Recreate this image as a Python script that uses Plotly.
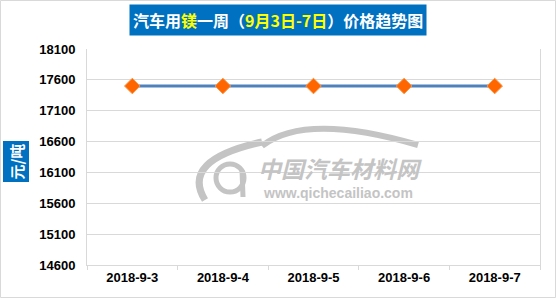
import plotly.graph_objects as go

# ---- data ----
dates = ["2018-9-3", "2018-9-4", "2018-9-5", "2018-9-6", "2018-9-7"]
prices = [17500, 17500, 17500, 17500, 17500]
y_min, y_max, y_step = 14600, 18100, 500

W, H = 556, 298
L, R, T, B = 87, 16, 49, 33
pw, ph = W - L - R, H - T - B

def px(x):
    return (x - L) / pw

def py(y):
    return (H - B - y) / ph

fig = go.Figure()
fig.add_trace(go.Scatter(
    x=dates, y=prices, mode="lines+markers",
    line=dict(color="#4F81BD", width=3),
    marker=dict(symbol="diamond", size=12, color="#FF6600",
                line=dict(color="#F79646", width=1)),
    showlegend=False, cliponaxis=False,
))

grey = "#D9D9D9"
tickfont = dict(family="Liberation Sans, Arial, sans-serif", size=13, color="#000000")

fig.update_layout(
    width=W, height=H, autosize=False,
    margin=dict(l=L, r=R, t=T, b=B, pad=0),
    paper_bgcolor="white", plot_bgcolor="white",
    xaxis=dict(type="category", range=[-0.5, len(dates) - 0.5],
               showgrid=False, showline=True, linecolor=grey,
               linewidth=1, ticks="outside", tickson="boundaries", ticklen=4,
               tickcolor=grey, tickfont=tickfont, mirror=False,
               tickprefix="<b>", ticksuffix="</b>"),
    yaxis=dict(range=[y_min, y_max], tick0=y_min, dtick=y_step, tickformat="d",
               showgrid=True, gridcolor=grey, gridwidth=1,
               showline=True, linecolor=grey, mirror=True, zeroline=False,
               tickfont=tickfont, ticks="", ticklabelstandoff=8,
               tickprefix="<b>", ticksuffix="</b>"),
)

shapes = []
# outer border
shapes.append(dict(type="rect", xref="paper", yref="paper",
                   x0=px(0.5), x1=px(W - 0.5), y0=py(H - 0.5), y1=py(0.5),
                   line=dict(color=grey, width=1), layer="below"))

wm = "#C4C4C4"
def path(points):
    s = "M %f,%f" % (px(points[0][0]), py(points[0][1]))
    for i in range(1, len(points) - 1, 2):
        s += " Q %f,%f %f,%f" % (px(points[i][0]), py(points[i][1]),
                                 px(points[i + 1][0]), py(points[i + 1][1]))
    return s

# watermark car roof
shapes.append(dict(type="path", xref="paper", yref="paper", layer="below",
                   path=path([(262, 146), (305, 112), (418, 145)]),
                   line=dict(color=wm, width=6)))
# big C
shapes.append(dict(type="path", xref="paper", yref="paper", layer="below",
                   path=path([(262, 142), (180, 160), (205, 200)]),
                   line=dict(color=wm, width=7)))
# Q circle
shapes.append(dict(type="circle", xref="paper", yref="paper", layer="below",
                   x0=px(216), x1=px(244), y0=py(192), y1=py(164),
                   line=dict(color=wm, width=5)))
shapes.append(dict(type="line", xref="paper", yref="paper", layer="below",
                   x0=px(242), x1=px(243), y0=py(170), y1=py(197),
                   line=dict(color=wm, width=5)))
fig.update_layout(shapes=shapes)

cjk = "Noto Sans CJK SC, sans-serif"
fig.add_annotation(xref="paper", yref="paper", x=px(340), y=py(168),
                   text="<b><i>中国汽车材料网</i></b>", showarrow=False,
                   font=dict(family=cjk, size=23, color=wm), borderpad=0,
                   xanchor="center", yanchor="middle")
fig.add_annotation(xref="paper", yref="paper", x=px(338), y=py(193),
                   text="<b>www.qichecailiao.com</b>", showarrow=False,
                   font=dict(family="Liberation Sans, Arial, sans-serif", size=14, color=wm),
                   borderpad=0, xanchor="center", yanchor="middle")

# title
fig.add_annotation(xref="paper", yref="paper", x=px(277.5), y=py(20),
                   text="<b>汽车用<span style='color:#FFFF00'>镁</span>一周（"
                        "<span style='color:#FFFF00'>9月3日-7日</span>）价格趋势图</b>",
                   showarrow=False, bgcolor="#0070C0", borderpad=3,
                   font=dict(family=cjk, size=16, color="white"),
                   xanchor="center", yanchor="middle")
# y title
fig.add_annotation(xref="paper", yref="paper", x=px(15.5), y=py(162),
                   text="<b>元/吨</b>", textangle=-90, showarrow=False,
                   bgcolor="#0070C0", borderpad=2,
                   font=dict(family=cjk, size=15, color="white"),
                   xanchor="center", yanchor="middle")

fig.write_html("out.html")
